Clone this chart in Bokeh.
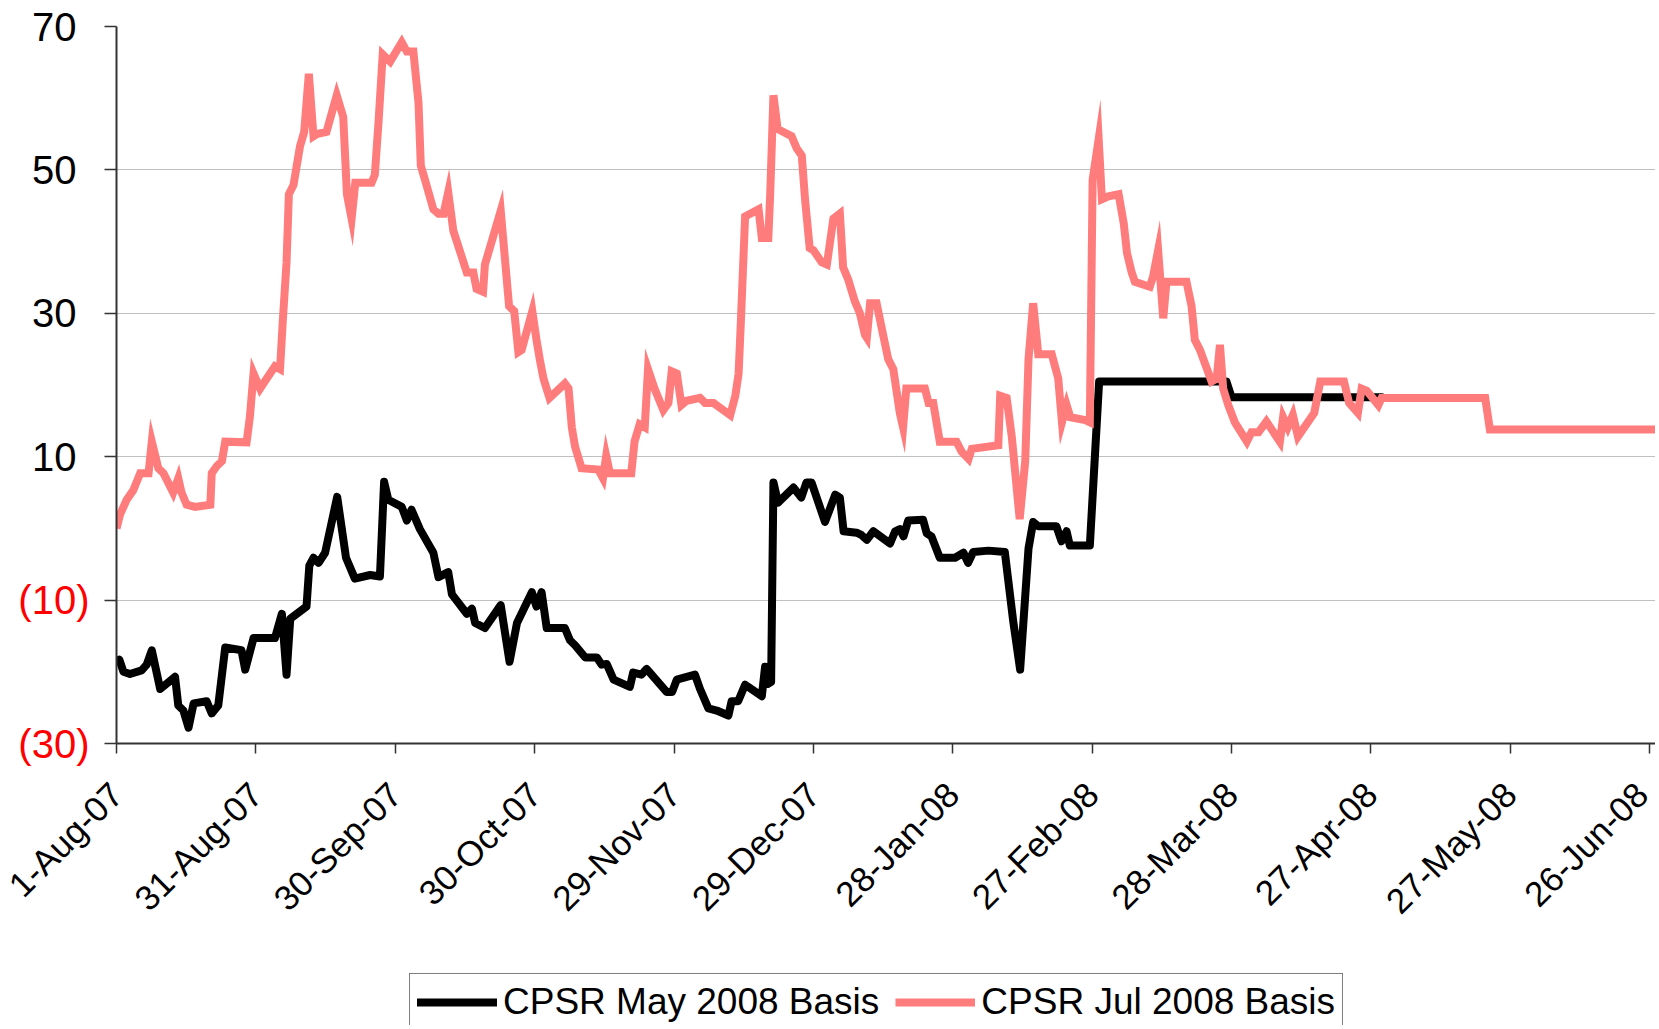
from bokeh.plotting import figure
from bokeh.models import (Range1d, FixedTicker, Legend, LegendItem, LinearAxis)
from bokeh.layouts import column
from bokeh.embed import file_html
from bokeh.resources import INLINE
import math

# ---- data (x = days since 1-Aug-07) ----
may_days = [0, 0.6, 1.5, 2.9, 5.4, 6.5, 7.6, 9.4, 12.6, 13.3, 14.4, 15.5, 16.6, 19.4, 20.5, 21.9,
            23.4, 26.9, 27.7, 29.5, 34.1, 35.6, 36.6, 37.4, 40.9, 41.5, 42.4, 43.5, 44.9, 47.5,
            49.4, 51.3, 54.6, 56.7, 57.6, 58.5, 61.4, 62.5, 63.5, 65.3, 68.2, 69.3, 71.4, 72.2,
            75.4, 76.5, 77.2, 79.3, 82.7, 84.6, 86.2, 89.4, 90.4, 91.5, 92.6, 96.5, 97.6, 98.7,
            100.9, 103.4, 104.4, 105.5, 107.0, 110.5, 111.2, 113.0, 114.1, 118.4, 119.6, 120.6,
            124.5, 125.6, 127.4, 129.2, 131.7, 132.4, 133.8, 135.3, 138.9, 139.6, 140.2, 140.9,
            141.4, 142.4, 145.7, 147.4, 148.5, 149.6, 152.5, 154.7, 155.7, 156.5, 159.3, 160.3,
            161.5, 162.9, 166.5, 167.6, 168.6, 169.4, 170.4, 173.6, 174.4, 175.4, 177.2, 180.5,
            182.3, 183.3, 184.4, 187.7, 191.2, 193.0, 194.5, 196.3, 197.3, 198.4, 202.3, 203.4,
            204.5, 205.2, 209.5, 211.5, 238.9, 240.0, 272.3]
may_vals = [-18.6, -18.3, -20.0, -20.3, -19.8, -19.0, -17.0, -22.4, -20.7, -24.7, -25.4, -27.8,
            -24.4, -24.1, -25.8, -24.7, -16.6, -17.0, -19.7, -15.3, -15.3, -11.9, -20.4, -12.6,
            -10.9, -5.2, -4.1, -4.8, -3.4, 4.4, -4.1, -7.0, -6.5, -6.7, 6.5, 4.0, 3.0, 1.1, 2.6,
            -0.1, -3.4, -6.8, -6.1, -9.2, -11.9, -11.2, -13.2, -13.9, -10.7, -18.6, -13.2, -8.9,
            -10.9, -8.9, -13.9, -13.9, -15.6, -16.3, -18.0, -18.0, -19.0, -18.9, -21.1, -22.1,
            -20.1, -20.4, -19.6, -22.8, -22.8, -21.1, -20.4, -22.4, -25.1, -25.4, -26.1, -24.1,
            -24.1, -21.8, -23.4, -19.3, -21.7, -21.4, 6.4, 3.6, 5.7, 4.3, 6.4, 6.4, 0.9, 4.7, 4.3,
            -0.4, -0.6, -0.9, -1.6, -0.4, -2.1, -0.4, -0.1, -1.1, 1.1, 1.2, -0.7, -1.1, -4.1, -4.1,
            -3.4, -4.8, -3.3, -3.1, -3.3, -12.9, -19.7, -2.8, 0.9, 0.3, 0.3, -1.8, -0.4, -2.4,
            -2.4, 20.5, 20.5, 18.3, 18.3]

jul_days = [0, 0.8, 2.2, 3.6, 5.1, 6.9, 7.6, 9.0, 10.1, 12.2, 13.3, 14.0, 15.1, 16.9, 20.2, 20.5,
            21.6, 22.7, 23.4, 28.0, 28.7, 29.5, 30.9, 34.1, 35.2, 35.8, 36.6, 37.1, 38.1, 39.5,
            40.4, 41.4, 42.4, 43.1, 45.2, 47.4, 48.8, 49.6, 50.6, 51.4, 54.9, 55.6, 56.4, 57.3,
            58.9, 61.4, 62.5, 63.9, 65.0, 65.5, 66.4, 68.2, 69.3, 70.4, 71.4, 72.5, 75.4, 76.8,
            77.5, 78.9, 79.3, 82.7, 84.5, 85.6, 86.5, 87.2, 89.5, 90.4, 91.1, 91.9, 93.2, 96.5,
            97.3, 98.0, 98.7, 100.1, 103.7, 104.7, 105.4, 106.2, 110.8, 111.5, 112.6, 113.7,
            114.4, 115.8, 117.7, 118.8, 119.5, 120.6, 121.6, 122.7, 125.6, 126.7, 128.5, 132.1,
            133.2, 133.9, 134.4, 135.3, 138.2, 138.9, 140.3, 140.7, 141.4, 142.3, 145.3, 146.4,
            147.5, 148.2, 149.2, 150.0, 151.8, 152.9, 154.3, 155.7, 156.4, 157.5, 158.9, 160.0,
            161.1, 161.5, 162.2, 163.6, 165.0, 166.1, 167.2, 168.6, 169.3, 170.0, 174.0, 174.8,
            175.8, 177.2, 180.8, 181.9, 183.4, 184.1, 189.8, 190.2, 191.6, 192.7, 194.4, 195.6,
            196.3, 197.3, 198.4, 201.3, 202.7, 203.5, 204.5, 205.3, 208.5, 209.5, 210.1, 211.4,
            212.1, 213.5, 215.7, 216.8, 217.5, 218.5, 219.2, 222.4, 223.1, 224.2, 225.3, 226.0,
            230.3, 231.4, 232.1, 233.2, 235.7, 236.8, 237.5, 238.2, 239.3, 240.7, 243.3, 244.3,
            245.8, 247.5, 250.4, 251.1, 252.1, 253.2, 254.3, 257.8, 259.1, 264.2, 265.3, 267.2,
            268.0, 269.1, 271.6, 272.3, 294.6, 295.6, 332.0]
jul_vals = [0.0, 2.0, 4.0, 5.3, 7.7, 7.7, 12.1, 8.4, 7.7, 5.0, 7.0, 5.0, 3.3, 3.0, 3.3, 7.7, 8.7,
            9.4, 12.1, 12.0, 15.5, 21.6, 19.5, 22.6, 22.2, 29.0, 37.1, 46.6, 47.9, 53.3, 55.3,
            63.4, 54.7, 55.0, 55.3, 60.4, 57.4, 46.6, 43.2, 48.2, 48.2, 49.3, 56.7, 66.1, 65.1,
            67.8, 66.5, 66.5, 59.4, 50.6, 48.6, 44.5, 43.9, 43.9, 46.9, 41.5, 35.7, 35.7, 33.4,
            33.0, 36.8, 44.3, 31.0, 30.3, 24.6, 24.9, 30.3, 26.3, 23.6, 20.9, 18.2, 20.2, 19.5,
            14.1, 11.4, 8.4, 8.2, 7.0, 10.1, 7.7, 7.7, 12.1, 14.5, 14.1, 22.2, 19.5, 16.5, 17.5,
            21.9, 21.6, 17.2, 17.8, 18.2, 17.5, 17.5, 15.8, 18.5, 21.6, 29.0, 43.5, 44.5, 40.5,
            40.5, 46.6, 60.4, 55.7, 54.7, 53.0, 52.0, 45.9, 39.1, 38.8, 37.1, 36.8, 43.2, 43.9,
            36.4, 34.7, 31.7, 30.0, 27.0, 26.6, 31.4, 31.4, 27.0, 23.6, 22.2, 16.1, 14.1, 19.5,
            19.5, 17.5, 17.5, 12.1, 12.1, 10.7, 9.7, 11.1, 11.6, 18.5, 18.2, 12.8, 1.3, 9.4, 23.6,
            31.4, 24.3, 24.3, 20.9, 14.8, 17.2, 15.5, 15.1, 14.8, 48.6, 54.3, 45.9, 46.3, 46.6,
            42.5, 38.4, 35.7, 34.4, 33.7, 35.1, 38.8, 29.3, 34.4, 34.4, 31.0, 26.3, 24.9, 20.5,
            20.9, 25.6, 19.5, 17.2, 14.8, 12.1, 13.4, 13.4, 14.9, 12.1, 15.5, 14.1, 15.8, 12.8,
            16.1, 20.5, 20.5, 17.5, 16.1, 19.5, 19.2, 17.2, 18.2, 18.2, 13.8, 13.8]

series_names = ["CPSR May 2008 Basis", "CPSR Jul 2008 Basis"]

x_ticks = [0, 30, 60, 90, 120, 150, 180, 210, 240, 270, 300, 330]
x_tick_labels = ["1-Aug-07", "31-Aug-07", "30-Sep-07", "30-Oct-07", "29-Nov-07", "29-Dec-07",
                 "28-Jan-08", "27-Feb-08", "28-Mar-08", "27-Apr-08", "27-May-08", "26-Jun-08"]
y_ticks = [-30, -10, 10, 30, 50, 70]
y_tick_labels = ["(30)", "(10)", "10", "30", "50", "70"]

FONT = "Liberation Sans"
W = 1655
MAIN_H, LEG_H = 965, 60
LEFT, TOP = 116, 26
FRAME_H = 717
PX_PER_DAY = 4.646
BLACK_STYLE = dict(line_color="black", line_width=8, line_join="round", line_cap="round")
PINK_STYLE = dict(line_color="#FF7C7C", line_width=8, line_join="miter")

p = figure(width=W, height=MAIN_H, output_backend="svg", toolbar_location=None,
           x_range=Range1d(0, (W - LEFT) / PX_PER_DAY), y_range=Range1d(-30, 70),
           min_border_left=LEFT, min_border_right=0, min_border_top=TOP,
           min_border_bottom=MAIN_H - TOP - FRAME_H)
p.outline_line_color = None
p.background_fill_color = "white"
p.border_fill_color = "white"

black = p.line(may_days, may_vals, **BLACK_STYLE)
pink = p.line(jul_days, jul_vals, **PINK_STYLE)

# x axis
xa = p.xaxis[0]
xa.ticker = FixedTicker(ticks=x_ticks)
xa.major_label_overrides = {t: l for t, l in zip(x_ticks, x_tick_labels)}
xa.major_label_orientation = math.pi / 4
xa.major_label_text_font = FONT
xa.major_label_text_font_size = "35px"
xa.major_label_text_color = "black"
xa.major_label_standoff = 35
xa.axis_line_color = "#333333"
xa.axis_line_width = 2
xa.major_tick_line_color = "#333333"
xa.major_tick_line_width = 1.5
xa.major_tick_out = 10
xa.major_tick_in = 0
xa.minor_tick_line_color = None

# y axis (positive labels, black)
ya = p.yaxis[0]
ya.ticker = FixedTicker(ticks=y_ticks)
ya.major_label_overrides = {t: (l if t > 0 else "") for t, l in zip(y_ticks, y_tick_labels)}
ya.major_label_text_font = FONT
ya.major_label_text_font_size = "40px"
ya.major_label_text_color = "black"
ya.major_label_standoff = 28
ya.axis_line_color = "#333333"
ya.axis_line_width = 2
ya.major_tick_line_color = "#333333"
ya.major_tick_line_width = 1.5
ya.major_tick_out = 12
ya.major_tick_in = 0
ya.minor_tick_line_color = None

# second left axis carrying the negative (red, bracketed) labels
neg_ticks = [t for t in y_ticks if t < 0]
ya2 = LinearAxis(ticker=FixedTicker(ticks=neg_ticks),
                 major_label_overrides={t: l for t, l in zip(y_ticks, y_tick_labels) if t < 0},
                 major_label_text_font=FONT, major_label_text_font_size="40px",
                 major_label_text_color="#FF0000", major_label_standoff=-60,
                 axis_line_color=None, major_tick_line_color=None, minor_tick_line_color=None,
                 major_tick_out=0, major_tick_in=0)
p.add_layout(ya2, "left")

p.xgrid.grid_line_color = None
p.ygrid.ticker = FixedTicker(ticks=y_ticks)
p.ygrid.grid_line_color = "#C0C0C0"
p.ygrid.grid_line_width = 1

# ---- legend strip (separate figure below the chart) ----
q = figure(width=W, height=LEG_H, output_backend="svg", toolbar_location=None,
           x_range=Range1d(0, 1), y_range=Range1d(0, 1),
           x_axis_type=None, y_axis_type=None,
           min_border_left=0, min_border_right=0, min_border_top=0, min_border_bottom=0)
q.outline_line_color = None
q.xgrid.grid_line_color = None
q.ygrid.grid_line_color = None
# legend-only renderers (kept outside the visible range of this strip)
leg_black = q.line([-2, -1], [-2, -1], **BLACK_STYLE)
leg_pink = q.line([-2, -1], [-2, -1], **PINK_STYLE)
legend = Legend(items=[LegendItem(label=series_names[0], renderers=[leg_black]),
                       LegendItem(label=series_names[1], renderers=[leg_pink])],
                orientation="horizontal", location=(293, -6),
                label_text_font=FONT, label_text_font_size="37px", label_text_color="black",
                glyph_width=80, glyph_height=38, label_standoff=6, spacing=16,
                padding=7, margin=0, border_line_color="black", border_line_width=1.5,
                background_fill_color="white", background_fill_alpha=1)
q.add_layout(legend, "center")

layout = column(p, q, spacing=0)
open("out.html", "w").write(file_html(layout, INLINE))
